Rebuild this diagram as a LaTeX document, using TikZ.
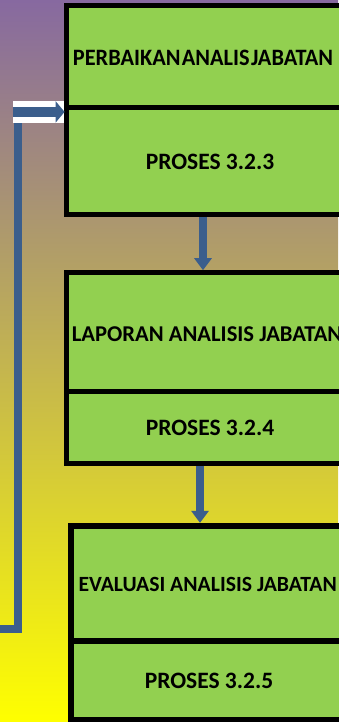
\documentclass[tikz,border=0pt]{standalone}
\usepackage{fontspec}
\setmainfont{Carlito}
\usetikzlibrary{arrows.meta}
\definecolor{bgtop}{RGB}{135,105,160}
\definecolor{bgbot}{RGB}{255,255,0}
\definecolor{boxgreen}{RGB}{146,208,80}
\definecolor{arrowblue}{RGB}{59,94,140}
\begin{document}
\begin{tikzpicture}[x=1pt,y=-1pt,
  half/.style={draw=black, fill=boxgreen, line width=4.6pt, minimum width=285pt,
    inner sep=0pt},
  halfthick/.style={half, line width=6pt, minimum width=277pt},
  lbl/.style={inner sep=0pt, font=\bfseries\fontsize{23.5}{28}\selectfont},
  lblsmall/.style={lbl, font=\bfseries\fontsize{22.6}{27}\selectfont},
  conn/.style={draw=arrowblue, line width=8pt, -{Triangle[width=17pt,length=12pt]}},
  fbline/.style={draw=arrowblue, line width=8pt, line join=miter},
  fbarrow/.style={draw=arrowblue, line width=10pt, -{Triangle[width=21pt,length=9pt]}}]
\useasboundingbox (0,0) rectangle (338,722);
\shade[top color=bgtop, bottom color=bgbot] (0,0) rectangle (338,722);
% box 1
\node[half, minimum height=102.2pt] (t1) at (209,56.4) {};
\node[half, minimum height=107pt] (b1) at (209,161) {};
% box 2
\node[half, minimum height=119.2pt] (t2) at (209,332.1) {};
\node[half, minimum height=71.6pt] (b2) at (209,427.5) {};
% box 3
\node[halfthick, minimum height=114.7pt] (t3) at (209,583.2) {};
\node[halfthick, minimum height=79pt] (b3) at (209,680) {};
% texts
\node[lbl] (t1x) at (203,57.5) {\scalebox{0.95}[1]{PERBAIKAN\hspace{1.5pt}ANALIS\hspace{1.5pt}JABATAN}};
\node[lbl] (b1x) at (210,162.3) {PROSES 3.2.3};
\node[lblsmall, anchor=west] (t2x) at (71.7,334.3) {LAPORAN ANALISIS JABATAN};
\node[lbl] (b2x) at (210,428.3) {PROSES 3.2.4};
\node[lblsmall, font=\bfseries\fontsize{21.7}{26}\selectfont, anchor=west] (t3x) at (78.3,584) {EVALUASI ANALISIS JABATAN};
\node[lbl] (b3x) at (209,681) {PROSES 3.2.5};
% arrows between boxes
\draw[conn] ([xshift=-6pt]b1.south) -- ([xshift=-6pt]t2.north);
\draw[conn] ([xshift=-9pt]b2.south) -- ([xshift=-9pt]t3.north);
% feedback
\node[fill=white, minimum width=51.5pt, minimum height=22pt, inner sep=0pt, anchor=north west] (wr) at (12.7,100.7) {};
\coordinate (fbA) at (0,628.8);
\coordinate (fbB) at (18,122.7);
\draw[fbline] (fbA) -| (fbB);
\draw[fbarrow] (wr.west) -- (wr.east);
\end{tikzpicture}
\end{document}
